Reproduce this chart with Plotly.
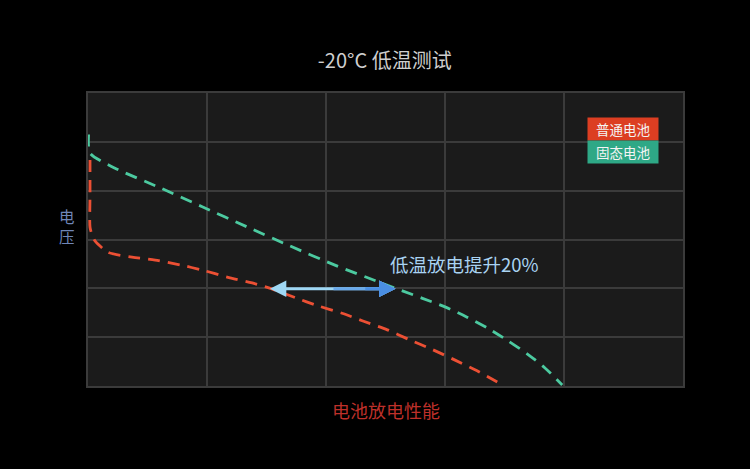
import plotly.graph_objects as go

# discharge curves (x: discharge capacity, y: voltage, in grid units)
solid_x = [0.1, 0.34, 4.54, 12.1, 19.2, 26.7, 33.9, 41.8, 49.1, 56.1, 60.0, 63.7, 67.1, 70.4, 73.8, 76.8, 79.7]
solid_y = [5.15, 4.77, 4.46, 4.06, 3.67, 3.26, 2.87, 2.46, 2.12, 1.80, 1.62, 1.41, 1.19, 0.94, 0.66, 0.37, 0.02]

normal_x = [0.34, 0.34, 0.34, 0.67, 1.18, 3.36, 7.39, 11.3, 15.5, 19.3, 23.4, 27.6, 30.9, 34.8, 38.7, 42.7,
            46.2, 50.3, 53.8, 58.0, 61.7, 65.4, 69.7]
normal_y = [4.63, 3.91, 3.25, 3.10, 2.97, 2.74, 2.64, 2.58, 2.48, 2.37, 2.23, 2.11, 1.99, 1.81, 1.64, 1.49,
            1.33, 1.15, 0.96, 0.74, 0.53, 0.31, 0.02]

arrow_x = [30.3, 51.7]
arrow_y = 1.99

fig = go.Figure()
fig.add_trace(go.Scatter(x=solid_x, y=solid_y, mode='lines', line_shape='spline', hoverinfo='skip',
                         line=dict(color='#4ccaa0', width=2.8, dash='12px,8px', smoothing=0.7)))
fig.add_trace(go.Scatter(x=normal_x, y=normal_y, mode='lines', line_shape='spline', hoverinfo='skip',
                         line=dict(color='#ec5034', width=2.8, dash='12px,8px', smoothing=0.7)))

# double arrow, light cyan on the left fading to blue on the right
mid = sum(arrow_x) / 2
fig.add_annotation(x=arrow_x[1], y=arrow_y, ax=arrow_x[0], ay=arrow_y, xref='x', yref='y',
                   axref='x', ayref='y', text='', showarrow=True, arrowhead=2, startarrowhead=2,
                   arrowside='end+start', arrowsize=1.1, arrowwidth=3, arrowcolor='#9fd8f5')
fig.add_annotation(x=arrow_x[1], y=arrow_y, ax=mid, ay=arrow_y, xref='x', yref='y',
                   axref='x', ayref='y', text='', showarrow=True, arrowhead=2,
                   arrowside='end', arrowsize=1.1, arrowwidth=3, arrowcolor='#6aa9ea')
fig.add_annotation(x=arrow_x[1], y=arrow_y, ax=(mid + arrow_x[1]) / 2, ay=arrow_y, xref='x', yref='y',
                   axref='x', ayref='y', text='', showarrow=True, arrowhead=2,
                   arrowside='end', arrowsize=1.1, arrowwidth=3, arrowcolor='#4a8ee2')
fig.add_annotation(x=63.2, y=2.5, text='低温放电提升20%', showarrow=False,
                   font=dict(size=18.5, color='#a9d3f2'))

# legend boxes
fig.add_annotation(x=(659 - 88) / 595, y=(386 - 129) / 293, xref='paper', yref='paper', text='普通电池',
                   showarrow=False, bgcolor='#dc3e22', font=dict(size=13.5, color='#f4f4f4'),
                   borderpad=1, width=68, xanchor='right', yanchor='middle')
fig.add_annotation(x=(659 - 88) / 595, y=(386 - 152) / 293, xref='paper', yref='paper', text='固态电池',
                   showarrow=False, bgcolor='#2ea886', font=dict(size=13.5, color='#f4f4f4'),
                   borderpad=1, width=68, xanchor='right', yanchor='middle')

fig.add_annotation(x=(67 - 88) / 595, y=(386 - 226) / 293, xref='paper', yref='paper', text='电<br>压',
                   showarrow=False, font=dict(size=15.5, color='#6f86b8'), xanchor='center')
fig.add_annotation(x=0.5, y=(386 - 410) / 293, xref='paper', yref='paper', text='电池放电性能',
                   showarrow=False, font=dict(size=18, color='#be302a'), yanchor='middle')

fig.update_layout(
    width=750, height=469,
    margin=dict(l=88, r=67, t=93, b=83),
    paper_bgcolor='#000000', plot_bgcolor='#1b1b1b',
    font=dict(family='Noto Sans CJK SC'),
    title=dict(text='-20°C 低温测试', x=0.513, xanchor='center', y=1 - 61 / 469, yanchor='middle',
               font=dict(size=20, color='#cfcfcf')),
    showlegend=False,
)
fig.update_xaxes(range=[0, 100], dtick=20, showticklabels=False, gridcolor='#3b3b3b', gridwidth=1.5,
                 zeroline=False, showline=True, linecolor='#3b3b3b', linewidth=1.5, mirror=True)
fig.update_yaxes(range=[0, 6], dtick=1, showticklabels=False, gridcolor='#3b3b3b', gridwidth=1.5,
                 zeroline=False, showline=True, linecolor='#3b3b3b', linewidth=1.5, mirror=True)

fig.write_html("out.html", config={'displayModeBar': False},
               post_script="document.body.style.margin='0';document.body.style.background='#000';")
